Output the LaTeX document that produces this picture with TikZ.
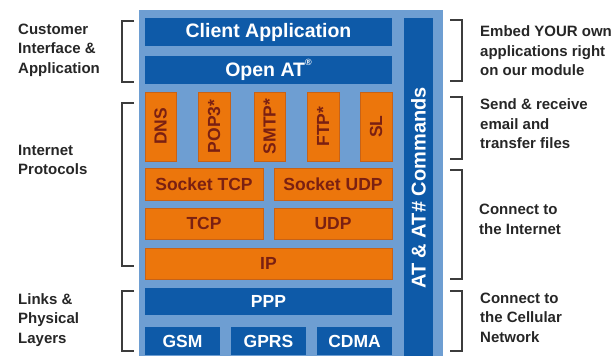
\documentclass[tikz,border=0pt]{standalone}
\usepackage{fontspec}
\setmainfont{Liberation Sans}
\usetikzlibrary{positioning}

\definecolor{panelblue}{RGB}{110,158,210}
\definecolor{boxblue}{RGB}{14,90,168}
\definecolor{boxorange}{RGB}{236,118,12}
\definecolor{orangeedge}{RGB}{200,98,22}
\definecolor{protored}{RGB}{122,32,18}
\definecolor{bracketgray}{RGB}{60,60,60}

\tikzset{
  bluebox/.style={fill=boxblue, text=white, inner sep=0pt,
    font=\bfseries\fontsize{17.5}{20}\selectfont},
  orangebox/.style={fill=boxorange, draw=orangeedge, line width=0.6pt,
    text=protored, inner sep=0pt, font=\bfseries\fontsize{17.5}{20}\selectfont},
  sidetext/.style={align=left, anchor=west, text=black!85, inner sep=0pt,
    font=\bfseries\fontsize{15}{19.5}\selectfont},
  bracket/.style={draw=bracketgray, line width=1.1pt},
}

\begin{document}
\begin{tikzpicture}[x=1pt,y=-1pt]
  \useasboundingbox (0,0) rectangle (614,356);

  \fill[panelblue] (139,10) rectangle (443,360);

  \node [bluebox, minimum width=247, minimum height=28,
    font=\bfseries\fontsize{19.5}{22}\selectfont] (client) at (268.5,32) {Client Application};
  \node [bluebox, minimum width=247, minimum height=28,
    font=\bfseries\fontsize{19.5}{22}\selectfont] (openat) at (268.5,70)
    {Open AT\raisebox{0.55em}{\fontsize{9}{10}\selectfont ®}};

  %%

  \node [orangebox, rotate=90, minimum width=69, minimum height=31] (dns) at (160.5,126.5) {DNS};
  \node [orangebox, rotate=90, minimum width=69, minimum height=32] (pop) at (214,126.5) {POP3*};
  \node [orangebox, rotate=90, minimum width=69, minimum height=31] (smtp) at (269.5,126.5) {SMTP*};
  \node [orangebox, rotate=90, minimum width=69, minimum height=32] (ftp) at (323,126.5) {FTP*};
  \node [orangebox, rotate=90, minimum width=69, minimum height=32] (sl) at (376,126.5) {SL};

  \node [orangebox, minimum width=118, minimum height=32] (socktcp) at (204,184) {Socket TCP};
  \node [orangebox, minimum width=118, minimum height=32] (sockudp) at (333,184) {Socket UDP};
  \node [orangebox, minimum width=118, minimum height=31] (tcp) at (204,223.5) {TCP};
  \node [orangebox, minimum width=118, minimum height=31] (udp) at (333,223.5) {UDP};
  \node [orangebox, minimum width=247, minimum height=31] (ip) at (268.5,263.5) {IP};

  %%

  \node [bluebox, minimum width=247, minimum height=27] (ppp) at (268.5,301.5) {PPP};
  \node [bluebox, minimum width=75, minimum height=28] (gsm) at (182.5,341) {GSM};
  \node [bluebox, minimum width=75, minimum height=28] (gprs) at (268.5,341) {GPRS};
  \node [bluebox, minimum width=75, minimum height=28] (cdma) at (354.5,341) {CDMA};

  \node [bluebox, rotate=90, minimum width=340, minimum height=29,
    font=\bfseries\fontsize{20}{22}\selectfont] (atcmd) at (418.5,188) {AT \& AT\# Commands};

  %% brackets, left side
  \draw [bracket] (134,21) -- (122,21) -- (122,82) -- (134,82);
  \draw [bracket] (134,103) -- (122,103) -- (122,266) -- (134,266);
  \draw [bracket] (134,291) -- (122,291) -- (122,351) -- (134,351);

  %% brackets, right side
  \draw [bracket] (450,20) -- (462,20) -- (462,81) -- (450,81);
  \draw [bracket] (450,97) -- (462,97) -- (462,159) -- (450,159);
  \draw [bracket] (450,170) -- (462,170) -- (462,279) -- (450,279);
  \draw [bracket] (450,291) -- (462,291) -- (462,351) -- (450,351);

  %%

  \node [sidetext] (custlbl) at (18,50) {Customer\\Interface \&\\Application};
  \node [sidetext] (netlbl) at (18,160) {Internet\\Protocols};
  \node [sidetext] (linklbl) at (18,320) {Links \&\\Physical\\Layers};

  \node [sidetext] (embedlbl) at (480,51) {Embed YOUR own\\applications right\\on our module};
  \node [sidetext] (maillbl) at (480,124) {Send \& receive\\email and\\transfer files};
  \node [sidetext] (conlbl) at (479,219.5) {Connect to\\the Internet};
  \node [sidetext] (celllbl) at (480,317.5) {Connect to\\the Cellular\\Network};

\end{tikzpicture}
\end{document}
